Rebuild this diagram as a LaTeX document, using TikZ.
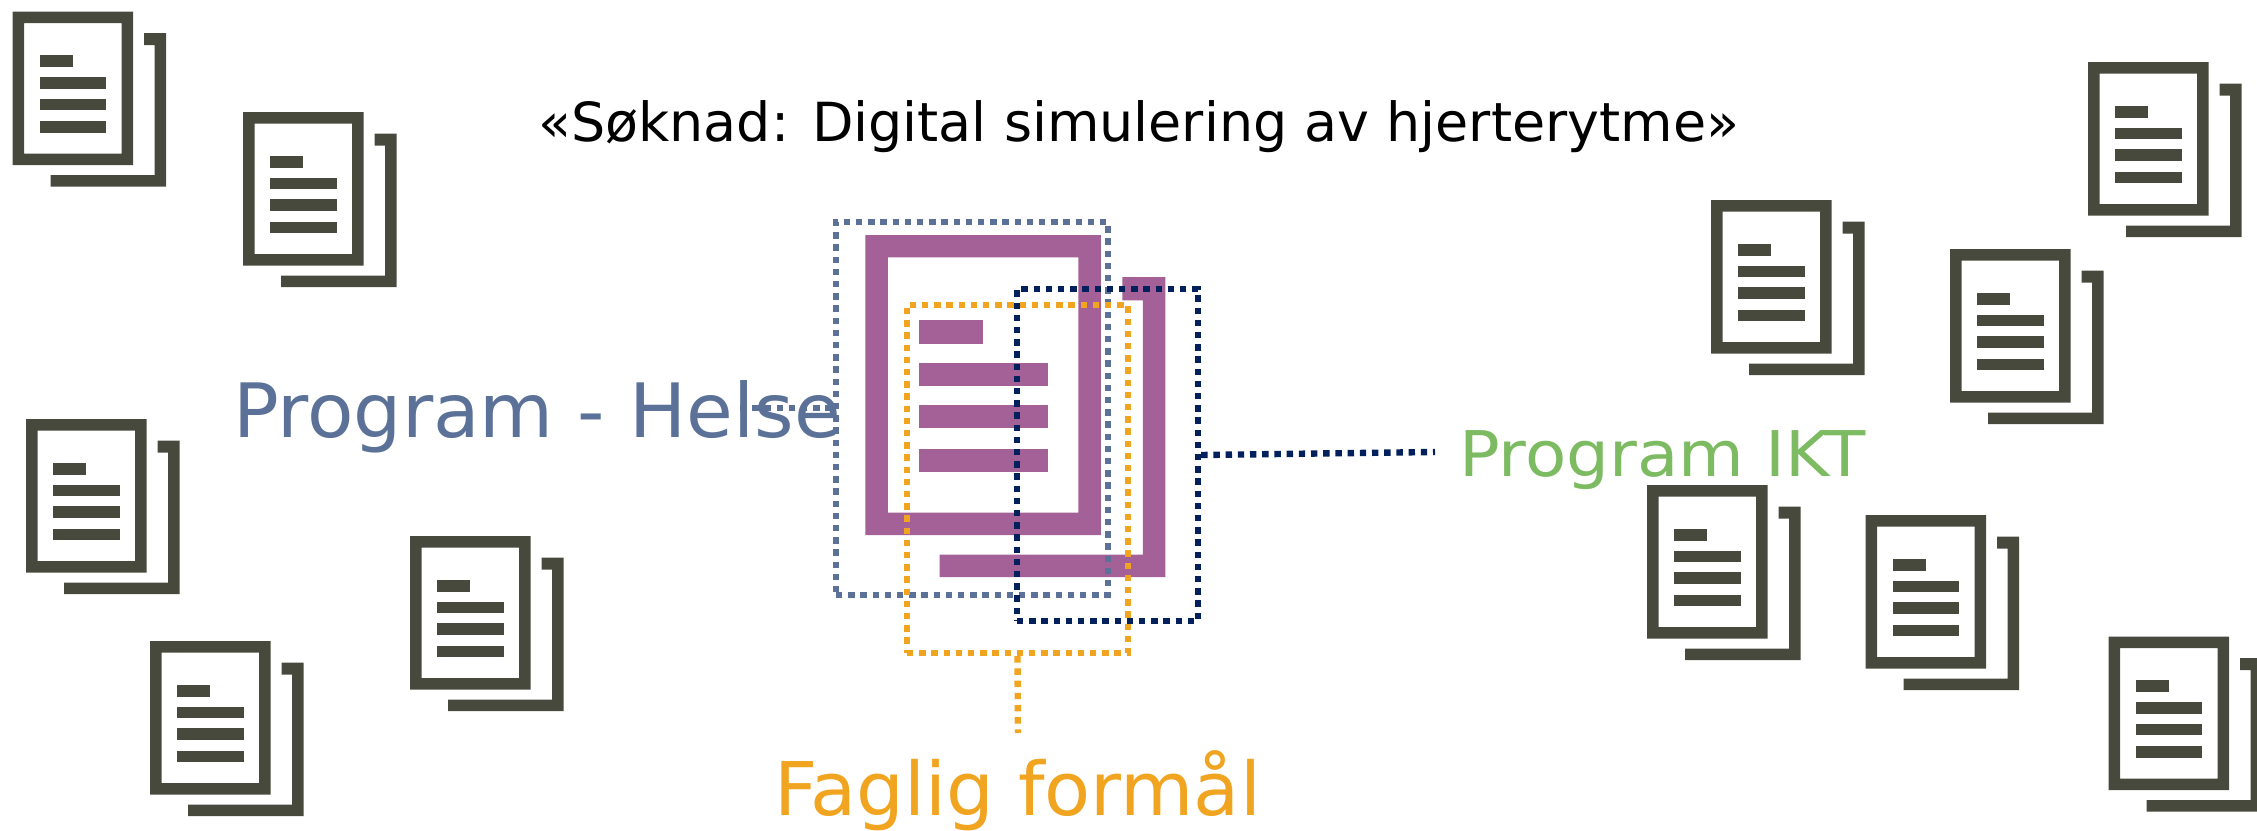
\documentclass[tikz,border=0pt]{standalone}
\usepackage{fontspec}
\setmainfont{DejaVu Sans}
\definecolor{icondark}{HTML}{48493D}
\definecolor{plum}{HTML}{A46197}
\definecolor{slateblue}{HTML}{5B7198}
\definecolor{navyblue}{HTML}{02205C}
\definecolor{amber}{HTML}{F0A41F}
\definecolor{leaf}{HTML}{7DBB62}
\tikzset{
  docicon/.pic={
    \fill[pic actions,even odd rule] (0,0) rectangle (120.5,153.5) (11.5,11.5) rectangle (109,142);
    \fill[pic actions] (27.3,43.5) rectangle (60.3,55.5);
    \fill[pic actions] (27.3,65.5) rectangle (93.5,77);
    \fill[pic actions] (27.3,87) rectangle (93.5,98.5);
    \fill[pic actions] (27.3,109.5) rectangle (93.5,121);
    \fill[pic actions] (131.5,21.5) -| (153.5,175) -| (38,163.5) -| (142,33.5) -| cycle;
  },
  dotbox/.style={draw=#1,line width=6.4pt,dash pattern=on 6.4pt off 5.8pt,inner sep=0pt,rectangle},
  dotline/.style={draw=#1,line width=6.4pt,dash pattern=on 6.4pt off 5.8pt},
  lbl/.style={inner sep=0pt,anchor=base west},
}
\begin{document}
\begin{tikzpicture}[x=1pt,y=-1pt]
\useasboundingbox (0,0) rectangle (2257,830);
% small icons
\foreach \ix/\iy in {12.5/11.5,243/112,26/419,150/641,410/536,2088/62,1711/200,1950/249,1647/485,1865.5/515,2108.7/636.7}
  \pic[fill=icondark] at (\ix,\iy) {docicon};
% large icon
\pic[fill=plum,scale=1.955] at (865.3,235) {docicon};
% labels
\node[lbl,text=black,font=\fontsize{53.9}{64}\selectfont] (title) at (538,141.5) {«Søknad: Digital simulering av hjerterytme»};
\node[lbl,text=slateblue,font=\fontsize{75}{90}\selectfont] (lhelse) at (233,437.3) {\scalebox{1.013}[1]{Program - Helse}};
\node[lbl,text=leaf,font=\fontsize{63}{76}\selectfont] (likt) at (1459,476.7) {\scalebox{1.072}[1]{Program IKT}};
\node[lbl,text=amber,font=\fontsize{74}{89}\selectfont] (lfag) at (774,815.7) {\scalebox{1.018}[1]{Faglig formål}};
% dotted frames
\node[dotbox=slateblue,minimum width=272pt,minimum height=373pt] (helse) at (972,408.5) {};
\node[dotbox=amber,minimum width=221pt,minimum height=348pt] (faglig) at (1017.5,479) {};
\node[dotbox=navyblue,minimum width=181pt,minimum height=332pt] (ikt) at (1107.5,455) {};
% connectors
\coordinate (hend) at (740,408);
\coordinate (iend) at (1435,452);
\coordinate (fend) at (1018,733);
\draw[dotline=slateblue] (hend) -- (helse.west |- hend);
\draw[dotline=navyblue] (ikt.east) -- (iend);
\draw[dotline=amber] (faglig.south) -- (fend);
\end{tikzpicture}
\end{document}
